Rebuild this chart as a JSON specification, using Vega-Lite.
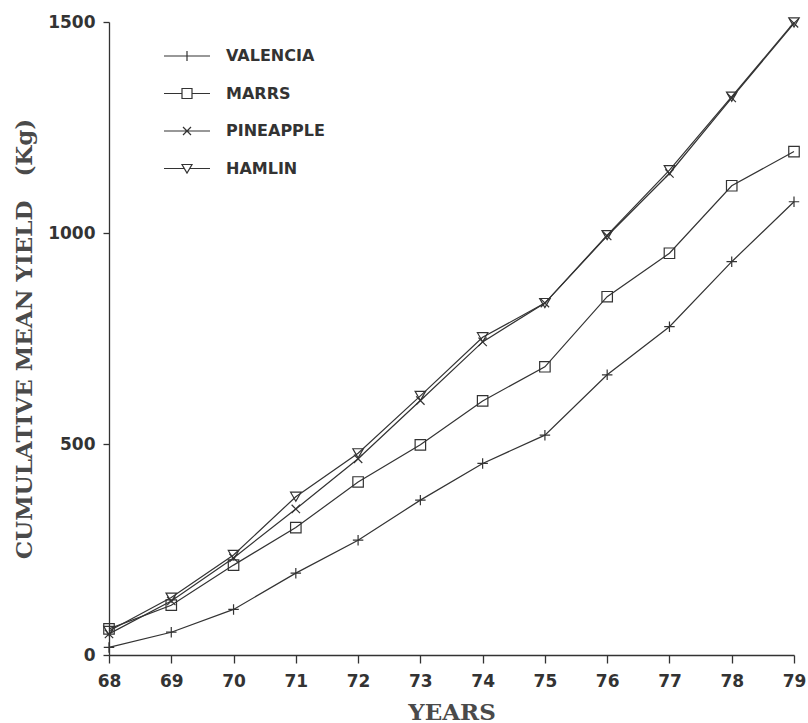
{
  "$schema": "https://vega.github.io/schema/vega-lite/v6.json",
  "autosize": "none",
  "width": 685,
  "height": 633,
  "padding": {"left": 109, "top": 22, "right": 14, "bottom": 68},
  "background": "white",
  "config": {
    "view": {"stroke": null},
    "axis": {
      "grid": false,
      "domainColor": "#333",
      "domainWidth": 1.3,
      "tickColor": "#333",
      "tickWidth": 1.3,
      "labelFont": "DejaVu Sans",
      "labelFontWeight": "bold",
      "labelFontSize": 17,
      "labelColor": "#333",
      "titleFont": "DejaVu Serif",
      "titleFontWeight": "bold",
      "titleFontSize": 23,
      "titleColor": "#4a4a4a"
    }
  },
  "data": {
    "values": [
      {"year": 68, "variety": "VALENCIA", "yield": 18},
      {"year": 69, "variety": "VALENCIA", "yield": 54},
      {"year": 70, "variety": "VALENCIA", "yield": 108},
      {"year": 71, "variety": "VALENCIA", "yield": 194},
      {"year": 72, "variety": "VALENCIA", "yield": 272},
      {"year": 73, "variety": "VALENCIA", "yield": 367},
      {"year": 74, "variety": "VALENCIA", "yield": 454},
      {"year": 75, "variety": "VALENCIA", "yield": 521},
      {"year": 76, "variety": "VALENCIA", "yield": 664},
      {"year": 77, "variety": "VALENCIA", "yield": 778},
      {"year": 78, "variety": "VALENCIA", "yield": 932},
      {"year": 79, "variety": "VALENCIA", "yield": 1074},
      {"year": 68, "variety": "MARRS", "yield": 62},
      {"year": 69, "variety": "MARRS", "yield": 118},
      {"year": 70, "variety": "MARRS", "yield": 213},
      {"year": 71, "variety": "MARRS", "yield": 302},
      {"year": 72, "variety": "MARRS", "yield": 410},
      {"year": 73, "variety": "MARRS", "yield": 498},
      {"year": 74, "variety": "MARRS", "yield": 602},
      {"year": 75, "variety": "MARRS", "yield": 683},
      {"year": 76, "variety": "MARRS", "yield": 849},
      {"year": 77, "variety": "MARRS", "yield": 952},
      {"year": 78, "variety": "MARRS", "yield": 1112},
      {"year": 79, "variety": "MARRS", "yield": 1193},
      {"year": 68, "variety": "PINEAPPLE", "yield": 50},
      {"year": 69, "variety": "PINEAPPLE", "yield": 128},
      {"year": 70, "variety": "PINEAPPLE", "yield": 230},
      {"year": 71, "variety": "PINEAPPLE", "yield": 346},
      {"year": 72, "variety": "PINEAPPLE", "yield": 465},
      {"year": 73, "variety": "PINEAPPLE", "yield": 603},
      {"year": 74, "variety": "PINEAPPLE", "yield": 742},
      {"year": 75, "variety": "PINEAPPLE", "yield": 834},
      {"year": 76, "variety": "PINEAPPLE", "yield": 993},
      {"year": 77, "variety": "PINEAPPLE", "yield": 1141},
      {"year": 78, "variety": "PINEAPPLE", "yield": 1320},
      {"year": 79, "variety": "PINEAPPLE", "yield": 1497},
      {"year": 68, "variety": "HAMLIN", "yield": 57},
      {"year": 69, "variety": "HAMLIN", "yield": 136},
      {"year": 70, "variety": "HAMLIN", "yield": 237},
      {"year": 71, "variety": "HAMLIN", "yield": 375},
      {"year": 72, "variety": "HAMLIN", "yield": 478},
      {"year": 73, "variety": "HAMLIN", "yield": 614},
      {"year": 74, "variety": "HAMLIN", "yield": 753},
      {"year": 75, "variety": "HAMLIN", "yield": 834},
      {"year": 76, "variety": "HAMLIN", "yield": 995},
      {"year": 77, "variety": "HAMLIN", "yield": 1149},
      {"year": 78, "variety": "HAMLIN", "yield": 1323},
      {"year": 79, "variety": "HAMLIN", "yield": 1499}
    ]
  },
  "encoding": {
    "x": {
      "field": "year",
      "type": "quantitative",
      "scale": {"domain": [68, 79], "nice": false, "zero": false},
      "axis": {
        "values": [68, 69, 70, 71, 72, 73, 74, 75, 76, 77, 78, 79],
        "format": "d",
        "title": "YEARS",
        "tickSize": 8,
        "labelPadding": 10,
        "titlePadding": 12,
        "labelFlush": false,
        "labelOverlap": false
      }
    },
    "y": {
      "field": "yield",
      "type": "quantitative",
      "scale": {"domain": [0, 1500], "nice": false},
      "axis": {
        "values": [0, 500, 1000, 1500],
        "format": "d",
        "title": "CUMULATIVE MEAN YIELD\u00a0\u00a0\u00a0(Kg)",
        "tickSize": 6,
        "labelPadding": 8,
        "titlePadding": 11
      }
    }
  },
  "layer": [
    {
      "mark": {"type": "line", "color": "#333", "strokeWidth": 1.2},
      "encoding": {"detail": {"field": "variety", "type": "nominal"}}
    },
    {
      "mark": {"type": "point", "filled": false, "color": "#333", "strokeWidth": 1.2, "size": 110, "opacity": 1},
      "encoding": {
        "shape": {
          "field": "variety",
          "type": "nominal",
          "scale": {
            "domain": ["VALENCIA", "MARRS", "PINEAPPLE", "HAMLIN"],
            "range": ["M-1,0L1,0M0,-1L0,1", "square", "M-0.8,-0.8L0.8,0.8M-0.8,0.8L0.8,-0.8", "triangle-down"]
          },
          "legend": null
        }
      }
    },
    {
      "mark": {"type": "point", "filled": false, "color": "#333", "strokeWidth": 1.2, "opacity": 0},
      "encoding": {
        "shape": {
          "field": "variety",
          "type": "nominal",
          "scale": {
            "domain": ["VALENCIA", "MARRS", "PINEAPPLE", "HAMLIN"],
            "range": [
              "M-4.6,0L4.6,0M0,-1L0,1",
              "M-4.6,0L-1,0M1,0L4.6,0M-1,-1L1,-1L1,1L-1,1Z",
              "M-4.6,0L4.6,0M-0.8,-0.8L0.8,0.8M-0.8,0.8L0.8,-0.8",
              "M-4.6,0L-0.55,0M0.55,0L4.6,0M-1,-0.8L1,-0.8L0,0.9Z"
            ]
          },
          "legend": {
            "title": null,
            "orient": "none",
            "legendX": 70,
            "legendY": 26,
            "padding": 0,
            "symbolSize": 100,
            "symbolStrokeWidth": 1.2,
            "symbolStrokeColor": "#333",
            "symbolFillColor": "transparent",
            "symbolOpacity": 1,
            "labelFont": "DejaVu Sans",
            "labelFontWeight": "bold",
            "labelFontSize": 16,
            "labelColor": "#333",
            "labelOffset": 31,
            "rowPadding": 21.5
          }
        }
      }
    }
  ],
  "resolve": {"scale": {"shape": "independent"}}
}
